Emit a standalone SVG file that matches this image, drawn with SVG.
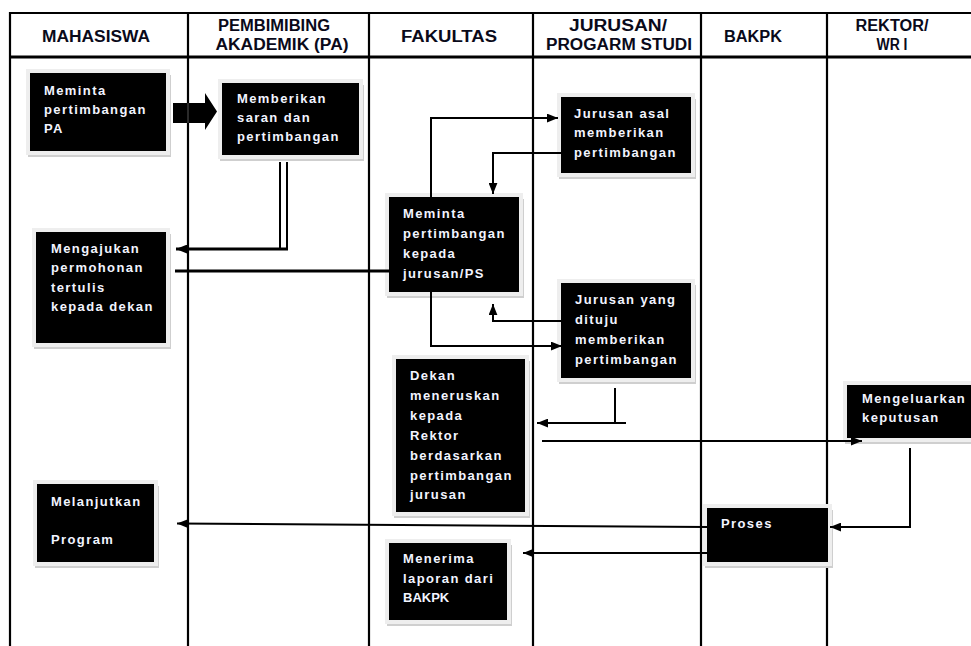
<svg xmlns="http://www.w3.org/2000/svg" width="971" height="646" viewBox="0 0 971 646">
<style>
.lane{stroke:#000;stroke-width:2.2;fill:none}
.hd{font-family:"Liberation Sans",Arial,sans-serif;font-weight:bold;font-size:16px;fill:#0a0a1a;text-anchor:middle}
.box{fill:#000}
.rim{fill:#eeeeee}
.sh{fill:#cfcfcf}
.bt{font-family:"Liberation Sans",Arial,sans-serif;font-weight:bold;font-size:13px;letter-spacing:1.4px;fill:#f2f4ff}
.c{stroke:#000;stroke-width:2;fill:none}
.c3{stroke:#000;stroke-width:3;fill:none}
</style>
<defs>
<marker id="ah" viewBox="0 0 10 8" refX="10" refY="4" markerWidth="11" markerHeight="9" markerUnits="userSpaceOnUse" orient="auto">
<path d="M0,0 L10,4 L0,8 Z" fill="#000"/>
</marker>
</defs>
<rect width="971" height="646" fill="#fff"/>
<g id="lanes">
<line class="lane" x1="10" y1="13" x2="971" y2="13"/>
<line class="lane" x1="10" y1="57" x2="971" y2="57" style="stroke-width:3"/>
<line class="lane" x1="10" y1="12" x2="10" y2="646"/>
<line class="lane" x1="188" y1="12" x2="188" y2="646"/>
<line class="lane" x1="369" y1="12" x2="369" y2="646"/>
<line class="lane" x1="533" y1="12" x2="533" y2="646"/>
<line class="lane" x1="701" y1="12" x2="701" y2="646"/>
<line class="lane" x1="827" y1="12" x2="827" y2="646"/>
</g>
<g id="header">
<text class="hd" x="96" y="42" textLength="108" lengthAdjust="spacingAndGlyphs">MAHASISWA</text>
<text class="hd" x="274" y="31" textLength="112" lengthAdjust="spacingAndGlyphs">PEMBIMIBING</text>
<text class="hd" x="282" y="50" textLength="133" lengthAdjust="spacingAndGlyphs">AKADEMIK (PA)</text>
<text class="hd" x="449" y="42" textLength="96" lengthAdjust="spacingAndGlyphs">FAKULTAS</text>
<text class="hd" x="618" y="31" textLength="98" lengthAdjust="spacingAndGlyphs">JURUSAN/</text>
<text class="hd" x="619" y="50" textLength="146" lengthAdjust="spacingAndGlyphs">PROGARM STUDI</text>
<text class="hd" x="753" y="42" textLength="58" lengthAdjust="spacingAndGlyphs">BAKPK</text>
<text class="hd" x="892" y="31" textLength="73" lengthAdjust="spacingAndGlyphs">REKTOR/</text>
<text class="hd" x="892" y="50" textLength="31" lengthAdjust="spacingAndGlyphs">WR I</text>
</g>
<g id="n1">
<rect class="sh" x="28" y="75" width="143" height="82"/>
<rect class="rim" x="26" y="69" width="144" height="86"/>
<rect class="box" x="30" y="73" width="136" height="78"/>
<text class="bt" x="44" y="95">Meminta</text>
<text class="bt" x="44" y="114">pertimbangan</text>
<text class="bt" x="44" y="133">PA</text>
</g>
<g id="n2">
<rect class="sh" x="220" y="85" width="144" height="76"/>
<rect class="rim" x="218" y="79" width="145" height="80"/>
<rect class="box" x="222" y="83" width="137" height="72"/>
<text class="bt" x="237" y="103">Memberikan</text>
<text class="bt" x="237" y="122">saran dan</text>
<text class="bt" x="237" y="141">pertimbangan</text>
</g>
<g id="n3">
<rect class="sh" x="34" y="234" width="137" height="115"/>
<rect class="rim" x="32" y="228" width="138" height="119"/>
<rect class="box" x="36" y="232" width="130" height="111"/>
<text class="bt" x="51" y="253">Mengajukan</text>
<text class="bt" x="51" y="272">permohonan</text>
<text class="bt" x="51" y="292">tertulis</text>
<text class="bt" x="51" y="311">kepada dekan</text>
</g>
<g id="n4">
<rect class="sh" x="387" y="199" width="137" height="99"/>
<rect class="rim" x="385" y="193" width="138" height="103"/>
<rect class="box" x="389" y="197" width="130" height="95"/>
<text class="bt" x="403" y="218">Meminta</text>
<text class="bt" x="403" y="238">pertimbangan</text>
<text class="bt" x="403" y="258">kepada</text>
<text class="bt" x="403" y="278">jurusan/PS</text>
</g>
<g id="n5">
<rect class="sh" x="559" y="99" width="137" height="80"/>
<rect class="rim" x="557" y="93" width="138" height="84"/>
<rect class="box" x="561" y="97" width="130" height="76"/>
<text class="bt" x="574" y="118">Jurusan asal</text>
<text class="bt" x="574" y="137">memberikan</text>
<text class="bt" x="574" y="157">pertimbangan</text>
</g>
<g id="n6">
<rect class="sh" x="559" y="285" width="137" height="99"/>
<rect class="rim" x="557" y="279" width="138" height="103"/>
<rect class="box" x="561" y="283" width="130" height="95"/>
<text class="bt" x="575" y="304">Jurusan yang</text>
<text class="bt" x="575" y="324">dituju</text>
<text class="bt" x="575" y="344">memberikan</text>
<text class="bt" x="575" y="364">pertimbangan</text>
</g>
<g id="n7">
<rect class="sh" x="394" y="361" width="136" height="157"/>
<rect class="rim" x="392" y="355" width="137" height="161"/>
<rect class="box" x="396" y="359" width="129" height="153"/>
<text class="bt" x="410" y="380">Dekan</text>
<text class="bt" x="410" y="400">meneruskan</text>
<text class="bt" x="410" y="420">kepada</text>
<text class="bt" x="410" y="440">Rektor</text>
<text class="bt" x="410" y="460">berdasarkan</text>
<text class="bt" x="410" y="480">pertimbangan</text>
<text class="bt" x="410" y="499">jurusan</text>
</g>
<g id="n8">
<rect class="sh" x="845" y="387" width="130" height="57"/>
<rect class="rim" x="843" y="381" width="132" height="61"/>
<rect class="box" x="847" y="385" width="128" height="53"/>
<text class="bt" x="862" y="403">Mengeluarkan</text>
<text class="bt" x="862" y="422">keputusan</text>
</g>
<g id="n9">
<rect class="sh" x="705" y="510" width="128" height="58"/>
<rect class="rim" x="703" y="504" width="129" height="62"/>
<rect class="box" x="707" y="508" width="121" height="54"/>
<text class="bt" x="721" y="528">Proses</text>
</g>
<g id="n10">
<rect class="sh" x="35" y="486" width="124" height="82"/>
<rect class="rim" x="33" y="480" width="125" height="86"/>
<rect class="box" x="37" y="484" width="117" height="78"/>
<text class="bt" x="51" y="506">Melanjutkan</text>
<text class="bt" x="51" y="544">Program</text>
</g>
<g id="n11">
<rect class="sh" x="387" y="545" width="125" height="81"/>
<rect class="rim" x="385" y="539" width="126" height="85"/>
<rect class="box" x="389" y="543" width="118" height="77"/>
<text class="bt" x="403" y="563">Menerima</text>
<text class="bt" x="403" y="583">laporan dari</text>
<text class="bt" x="403" y="602" style="letter-spacing:0">BAKPK</text>
</g>
<g id="connectors">
<path d="M173,103 H205 V93 L217,111.5 L205,130 V123 H173 Z" fill="#000"/>
<line x1="188" y1="103" x2="188" y2="123" stroke="#555" stroke-width="1"/>
<path class="c" d="M280,162 V248"/>
<path class="c" d="M287,162 V250"/>
<path class="c3" d="M288,249 H176" marker-end="url(#ah)"/>
<path class="c3" d="M175,271 H390"/>
<path class="c" d="M431,197 V118 H558" marker-end="url(#ah)"/>
<path class="c" d="M561,153 H493 V194" marker-end="url(#ah)"/>
<path class="c" d="M561,321 H493 V304" marker-end="url(#ah)"/>
<path class="c" d="M431,292 V346 H562" marker-end="url(#ah)"/>
<path class="c" d="M615,388 V423"/>
<path class="c" d="M626,423 H537" marker-end="url(#ah)"/>
<path class="c" d="M542,441 H862" marker-end="url(#ah)"/>
<path class="c" d="M910,448 V527 H830" marker-end="url(#ah)"/>
<path class="c" d="M707,527 L177,523.5" marker-end="url(#ah)"/>
<path class="c" d="M707,553 H523" marker-end="url(#ah)"/>
</g>
</svg>
